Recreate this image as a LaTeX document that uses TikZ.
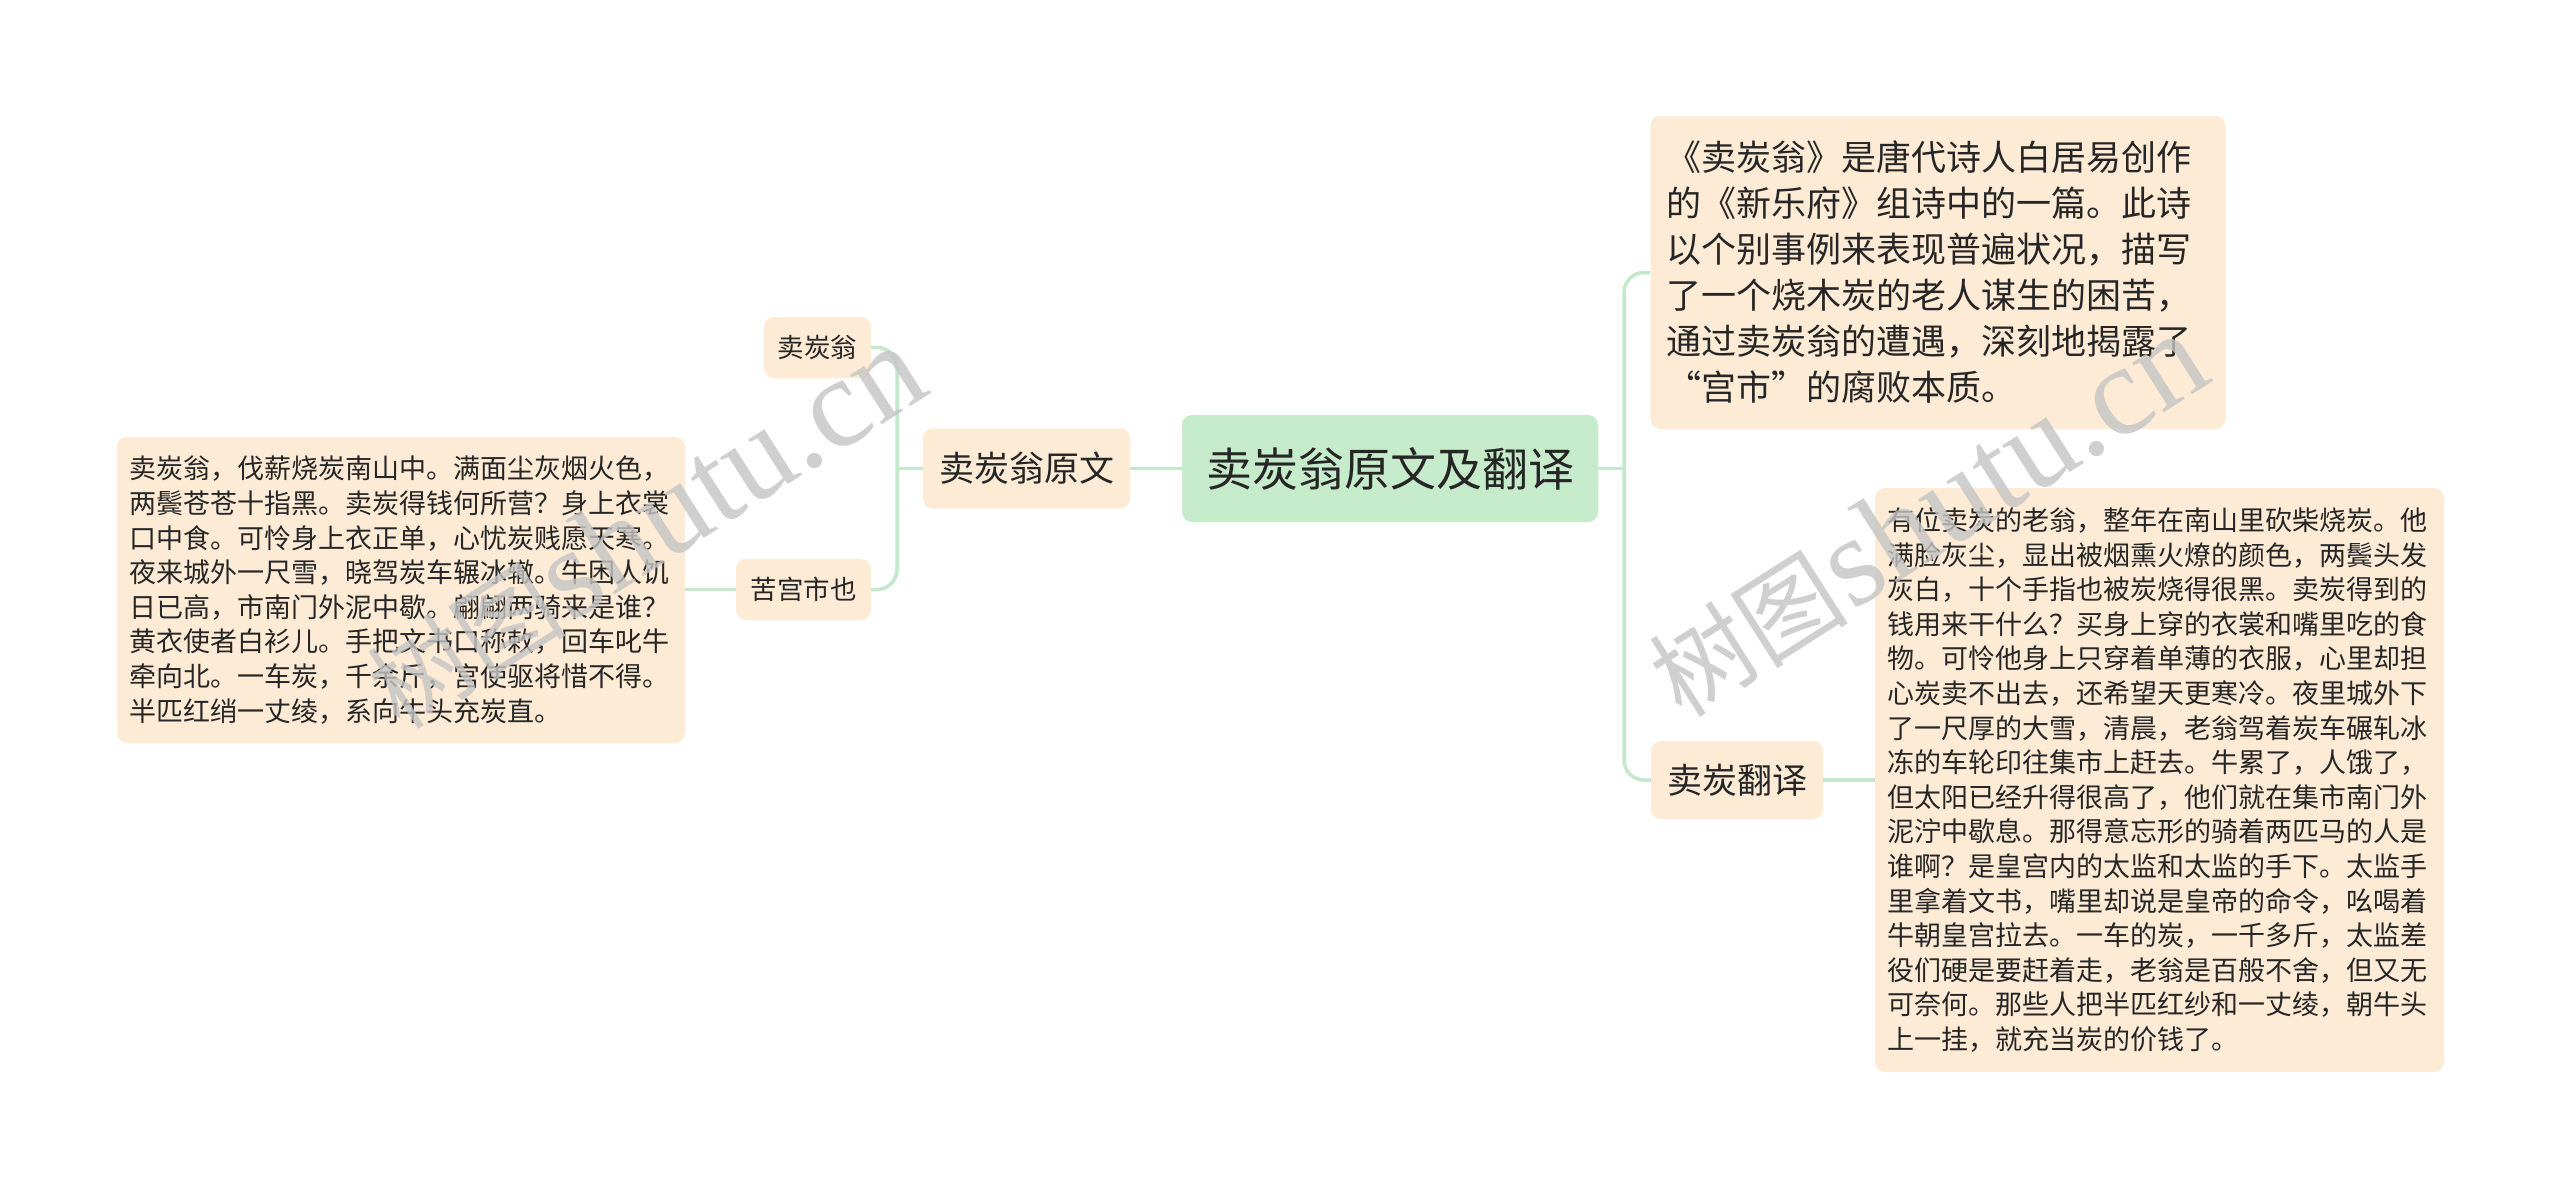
\documentclass[tikz,border=0pt]{standalone}
\usepackage{fontspec}
\setmainfont{Noto Sans CJK SC}
\newfontfamily\wmserif{Liberation Serif}
\definecolor{peach}{HTML}{FDEBD5}
\definecolor{rootgreen}{HTML}{C6EBCB}
\definecolor{linkgreen}{HTML}{C3E8CB}
\definecolor{txt}{HTML}{262626}
\definecolor{wmgray}{HTML}{C4C4C4}
\tikzset{
  basebox/.style={rounded corners=10pt, text=txt, inner sep=0pt, align=center},
  rootbox/.style={basebox, fill=rootgreen, font=\fontsize{46pt}{56pt}\selectfont},
  subbox/.style={basebox, fill=peach, font=\fontsize{35pt}{42pt}\selectfont},
  smallbox/.style={basebox, fill=peach, font=\fontsize{26.5pt}{32pt}\selectfont},
  textbox/.style={basebox, fill=peach, align=left, font=\fontsize{27pt}{34.6pt}\selectfont},
  bigtextbox/.style={basebox, fill=peach, align=left, font=\fontsize{35pt}{46pt}\selectfont},
  link/.style={draw=linkgreen, line width=3.5pt, rounded corners=20pt},
  wmark/.style={text=wmgray, opacity=0.8, inner sep=0pt}
}
\begin{document}
\begin{tikzpicture}[x=1pt,y=-1pt]
\fill[white] (0,0) rectangle (2560,1189);
\useasboundingbox (0,0) rectangle (2560,1189);

% nodes
\node[rootbox, minimum width=416pt, minimum height=107pt] (root) at (1390,468.5) {卖炭翁原文及翻译};
\node[subbox, minimum width=207pt, minimum height=80pt] (yuanwen) at (1026.5,468.5) {卖炭翁原文};
\node[smallbox, minimum width=107pt, minimum height=61pt] (weng) at (817.5,347.5) {卖炭翁};
\node[smallbox, minimum width=135pt, minimum height=61pt] (kgs) at (803.5,589.5) {苦宫市也};
\node[textbox, text width=544pt, inner xsep=12pt, minimum height=306pt] (poem) at (401,590) {卖炭翁，伐薪烧炭南山中。满面尘灰烟火色，\\两鬓苍苍十指黑。卖炭得钱何所营？身上衣裳\\口中食。可怜身上衣正单，心忧炭贱愿天寒。\\夜来城外一尺雪，晓驾炭车辗冰辙。牛困人饥\\日已高，市南门外泥中歇。翩翩两骑来是谁？\\黄衣使者白衫儿。手把文书口称敕，回车叱牛\\牵向北。一车炭，千余斤，宫使驱将惜不得。\\半匹红绡一丈绫，系向牛头充炭直。};
\node[bigtextbox, text width=543pt, inner xsep=16pt, minimum height=313pt] (intro) at (1938,272.5) {《卖炭翁》是唐代诗人白居易创作\\的《新乐府》组诗中的一篇。此诗\\以个别事例来表现普遍状况，描写\\了一个烧木炭的老人谋生的困苦，\\通过卖炭翁的遭遇，深刻地揭露了\\“宫市”的腐败本质。};
\node[subbox, minimum width=172pt, minimum height=78pt] (fanyi) at (1737,780) {卖炭翻译};
\node[textbox, text width=545pt, inner xsep=12pt, minimum height=584pt] (trans) at (2159.5,780) {有位卖炭的老翁，整年在南山里砍柴烧炭。他\\满脸灰尘，显出被烟熏火燎的颜色，两鬓头发\\灰白，十个手指也被炭烧得很黑。卖炭得到的\\钱用来干什么？买身上穿的衣裳和嘴里吃的食\\物。可怜他身上只穿着单薄的衣服，心里却担\\心炭卖不出去，还希望天更寒冷。夜里城外下\\了一尺厚的大雪，清晨，老翁驾着炭车碾轧冰\\冻的车轮印往集市上赶去。牛累了，人饿了，\\但太阳已经升得很高了，他们就在集市南门外\\泥泞中歇息。那得意忘形的骑着两匹马的人是\\谁啊？是皇宫内的太监和太监的手下。太监手\\里拿着文书，嘴里却说是皇帝的命令，吆喝着\\牛朝皇宫拉去。一车的炭，一千多斤，太监差\\役们硬是要赶着走，老翁是百般不舍，但又无\\可奈何。那些人把半匹红纱和一丈绫，朝牛头\\上一挂，就充当炭的价钱了。};

% trunk coordinates
\coordinate (tl) at (897,468.5);
\coordinate (tr) at (1624,468.5);

% connectors
\draw[link] (root.west) -- (yuanwen.east);
\draw[link] (yuanwen.west) -- (tl);
\draw[link] (tl) |- (weng.east);
\draw[link] (tl) |- (kgs.east);
\draw[link] (kgs.west) -- (kgs.west -| poem.east);
\draw[link] (root.east) -- (tr);
\draw[link] (tr) |- (intro.west);
\draw[link] (tr) |- (fanyi.west);
\draw[link] (fanyi.east) -- (fanyi.east -| trans.west);

% watermarks
\node[wmark, rotate=32.5] (wm1) at (645,528) {{\fontsize{100pt}{100pt}\selectfont 树图} {\wmserif\fontsize{128pt}{128pt}\selectfont shutu.cn}};
\node[wmark, rotate=32.5] (wm2) at (1927,516) {{\fontsize{100pt}{100pt}\selectfont 树图} {\wmserif\fontsize{128pt}{128pt}\selectfont shutu.cn}};
\end{tikzpicture}
\end{document}
